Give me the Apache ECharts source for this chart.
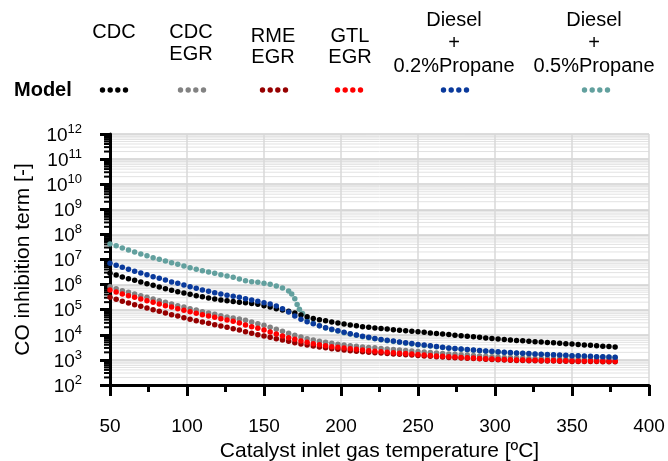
<!DOCTYPE html>
<html>
<head>
<meta charset="utf-8">
<script src="https://cdn.jsdelivr.net/npm/echarts@6/dist/echarts.min.js"></script>
<style>
  html, body { margin: 0; padding: 0; background: #fff; }
  #chart { width: 668px; height: 461px; }
</style>
</head>
<body>
<div id="chart"></div>
<script>
const FONT = '"Liberation Sans", Arial, sans-serif';

// catalyst inlet temperature [C], one dot every 4 degrees
const temps = [50,54,58,62,66,70,74,78,82,86,90,94,98,102,106,110,114,118,122,126,130,134,138,142,146,150,154,158,162,166,170,174,178,182,186,190,194,198,202,206,210,214,218,222,226,230,234,238,242,246,250,254,258,262,266,270,274,278,282,286,290,294,298,302,306,310,314,318,322,326,330,334,338,342,346,350,354,358,362,366,370,374,378];

// the 0.5% propane curve has a few extra dots where it drops
const tempsPropane05 = [50,54,58,62,66,70,74,78,82,86,90,94,98,102,106,110,114,118,122,126,130,134,138,142,146,150,154,158,162,166,168,170,171.5,173,175,178,182,186,190,194,198,202,206,210,214,218,222,226,230,234,238,242,246,250,254,258,262,266,270,274,278,282,286,290,294,298,302,306,310,314,318,322,326,330,334,338,342,346,350,354,358,362,366,370,374,378];

const cdc = [2.82e6,2.41e6,2.01e6,1.72e6,1.48e6,1.27e6,1.09e6,9.4e5,8.0e5,6.9e5,
  5.9e5,5.2e5,4.6e5,4.1e5,3.6e5,3.3e5,2.9e5,2.65e5,2.45e5,2.25e5,
  2.1e5,1.97e5,1.88e5,1.78e5,1.64e5,1.44e5,1.28e5,1.10e5,9.7e4,8.6e4,
  7.4e4,6.1e4,5.2e4,4.5e4,4.0e4,3.6e4,3.2e4,2.95e4,2.7e4,2.45e4,
  2.3e4,2.1e4,1.99e4,1.87e4,1.77e4,1.69e4,1.60e4,1.52e4,1.45e4,1.38e4,
  1.31e4,1.25e4,1.19e4,1.13e4,1.07e4,1.02e4,9.7e3,9.2e3,8.7e3,8.3e3,
  7.9e3,7.5e3,7.2e3,6.8e3,6.5e3,6.2e3,5.98e3,5.75e3,5.55e3,5.33e3,
  5.14e3,4.95e3,4.77e3,4.59e3,4.42e3,4.26e3,4.10e3,3.95e3,3.80e3,3.66e3,
  3.52e3,3.40e3,3.27e3];

const cdcEgr = [8.25e5,6.87e5,5.71e5,4.93e5,4.22e5,3.61e5,3.12e5,2.67e5,2.28e5,1.97e5,
  1.69e5,1.44e5,1.28e5,1.10e5,9.7e4,8.3e4,7.4e4,6.6e4,5.8e4,5.1e4,
  4.7e4,4.3e4,3.8e4,3.2e4,2.77e4,2.39e4,1.99e4,1.66e4,1.38e4,1.15e4,
  9.5e3,8.2e3,7.0e3,6.2e3,5.5e3,5.0e3,4.6e3,4.2e3,3.9e3,3.7e3,
  3.5e3,3.27e3,3.15e3,3.03e3,2.87e3,2.72e3,2.57e3,2.46e3,2.35e3,2.24e3,
  2.14e3,2.05e3,1.95e3,1.87e3,1.80e3,1.73e3,1.67e3,1.61e3,1.55e3,1.50e3,
  1.44e3,1.39e3,1.34e3,1.29e3,1.26e3,1.24e3,1.21e3,1.19e3,1.17e3,1.15e3,
  1.13e3,1.11e3,1.09e3,1.08e3,1.06e3,1.05e3,1.04e3,1.03e3,1.02e3,1.01e3,
  1.00e3,990,980];

const rmeEgr = [3.12e5,2.59e5,2.16e5,1.85e5,1.58e5,1.36e5,1.17e5,1.00e5,8.6e4,7.4e4,
  6.3e4,5.6e4,4.8e4,4.15e4,3.65e4,3.24e4,2.87e4,2.52e4,2.24e4,1.99e4,
  1.75e4,1.55e4,1.33e4,1.15e4,1.01e4,8.95e3,7.94e3,7.0e3,6.2e3,5.5e3,
  4.84e3,4.30e3,3.93e3,3.58e3,3.27e3,3.06e3,2.79e3,2.64e3,2.48e3,2.33e3,
  2.20e3,2.12e3,2.01e3,1.94e3,1.87e3,1.80e3,1.73e3,1.67e3,1.61e3,1.55e3,
  1.50e3,1.44e3,1.39e3,1.34e3,1.29e3,1.26e3,1.22e3,1.19e3,1.16e3,1.13e3,
  1.10e3,1.07e3,1.04e3,1.01e3,991,973,955,938,929,920,
  912,904,896,887,879,871,863,863,855,855,
  847,847,839];

const gtlEgr = [6.1e5,5.07e5,4.22e5,3.61e5,3.12e5,2.67e5,2.28e5,1.97e5,1.69e5,1.44e5,
  1.28e5,1.10e5,9.5e4,8.3e4,7.2e4,6.3e4,5.6e4,5.0e4,4.4e4,3.9e4,
  3.45e4,2.95e4,2.45e4,2.10e4,1.82e4,1.55e4,1.29e4,1.08e4,8.95e3,7.66e3,
  6.62e3,5.66e3,5.02e3,4.42e3,4.03e3,3.68e3,3.36e3,3.18e3,2.98e3,2.79e3,
  2.64e3,2.48e3,2.33e3,2.20e3,2.10e3,2.01e3,1.92e3,1.85e3,1.78e3,1.72e3,
  1.64e3,1.57e3,1.50e3,1.44e3,1.39e3,1.34e3,1.29e3,1.25e3,1.21e3,1.18e3,
  1.15e3,1.12e3,1.09e3,1.06e3,1.04e3,1.02e3,1.00e3,982,973,964,
  955,946,938,929,920,912,904,904,896,896,
  887,887,879];

const propane02 = [7.06e6,5.87e6,4.89e6,4.07e6,3.39e6,2.90e6,2.48e6,2.07e6,1.78e6,1.52e6,
  1.27e6,1.13e6,9.6e5,8.2e5,7.1e5,6.1e5,5.4e5,4.75e5,4.2e5,3.75e5,
  3.42e5,3.15e5,2.74e5,2.43e5,2.16e5,1.90e5,1.69e5,1.40e5,1.10e5,8.1e4,
  5.6e4,4.15e4,3.33e4,2.77e4,2.31e4,1.92e4,1.66e4,1.46e4,1.26e4,1.11e4,
  9.8e3,8.7e3,7.9e3,7.1e3,6.56e3,6.04e3,5.61e3,5.16e3,4.80e3,4.46e3,
  4.15e3,3.89e3,3.65e3,3.42e3,3.21e3,3.01e3,2.87e3,2.74e3,2.62e3,2.50e3,
  2.39e3,2.28e3,2.20e3,2.10e3,2.03e3,1.95e3,1.90e3,1.83e3,1.78e3,1.73e3,
  1.69e3,1.64e3,1.60e3,1.55e3,1.52e3,1.48e3,1.46e3,1.42e3,1.39e3,1.35e3,
  1.33e3,1.31e3,1.28e3];

const propane05 = [4.15e7,3.55e7,2.87e7,2.39e7,1.99e7,1.66e7,1.42e7,1.18e7,1.02e7,8.7e6,
  7.46e6,6.44e6,5.51e6,4.71e6,4.07e6,3.58e6,3.18e6,2.82e6,2.48e6,2.20e6,
  1.95e6,1.67e6,1.43e6,1.31e6,1.24e6,1.13e6,1.03e6,8.8e5,7.3e5,5.6e5,
  4.2e5,2.7e5,1.6e5,1.05e5,7.0e4,
  4.0e4,2.9e4,2.3e4,1.86e4,1.60e4,1.41e4,1.22e4,1.07e4,9.5e3,8.4e3,
  7.6e3,6.9e3,6.35e3,5.85e3,5.43e3,5.0e3,4.65e3,4.32e3,4.02e3,3.77e3,
  3.54e3,3.31e3,3.11e3,2.92e3,2.78e3,2.66e3,2.54e3,2.43e3,2.32e3,2.21e3,
  2.13e3,2.04e3,1.97e3,1.89e3,1.84e3,1.78e3,1.73e3,1.68e3,1.64e3,1.59e3,
  1.55e3,1.51e3,1.48e3,1.44e3,1.42e3,1.38e3,1.35e3,1.31e3,1.29e3,1.27e3,1.24e3];

// log minor gridlines / ticks: 2..9 times each decade
const minorSteps = [2,3,4,5,6,7,8,9];
const decades = [1e2,1e3,1e4,1e5,1e6,1e7,1e8,1e9,1e10,1e11];

const colors = {
  cdc: '#000000',
  cdcEgr: '#828282',
  rmeEgr: '#960000',
  gtlEgr: '#ff0000',
  p02: '#0a3a9c',
  p05: '#62a09e',
};

function pairs(xs, ys) {
  return ys.map((v, i) => [xs[i], v]);
}

function dotSeries(name, xs, ys, color) {
  return {
    name: name,
    type: 'scatter',
    data: pairs(xs, ys),
    symbol: 'circle',
    symbolSize: 5.5,
    itemStyle: { color: color, opacity: 1 },
    silent: true,
    z: 3,
  };
}

function legendText(text, x, y, lineHeight) {
  return {
    type: 'text',
    x: x,
    y: y,
    style: {
      text: text,
      align: 'center',
      verticalAlign: 'middle',
      font: '20px ' + FONT,
      lineHeight: lineHeight || 22,
      fill: '#000',
    },
  };
}

function legendDots(cx, cy, color) {
  return [-11.5, -3.8, 3.8, 11.5].map(dx => ({
    type: 'circle',
    shape: { cx: cx + dx, cy: cy, r: 2.7 },
    style: { fill: color },
  }));
}

const minorTickVals = [];
decades.forEach(d => minorSteps.forEach(m => minorTickVals.push([50, m * d])));

const option = {
  animation: false,
  grid: { left: 110, right: 19, top: 134, bottom: 76, outerBoundsMode: 'none' },
  xAxis: {
    type: 'value',
    min: 50,
    max: 400,
    interval: 50,
    name: 'Catalyst inlet gas temperature [ºC]',
    nameLocation: 'middle',
    nameGap: 55,
    nameTextStyle: { fontSize: 21, fontFamily: FONT, color: '#000' },
    axisLine: { lineStyle: { color: '#000', width: 3 } },
    axisTick: { length: 11, lineStyle: { color: '#000', width: 3 } },
    minorTick: { show: true, splitNumber: 2, length: 7, lineStyle: { color: '#000', width: 3 } },
    axisLabel: { margin: 32, fontSize: 19, fontFamily: FONT, color: '#000' },
    splitLine: { lineStyle: { color: '#d9d9d9', width: 1.5 } },
  },
  yAxis: {
    type: 'log',
    logBase: 10,
    min: 100,
    max: 1e12,
    interval: 1,
    name: 'CO inhibition term [-]',
    nameLocation: 'middle',
    nameGap: 76,
    nameTextStyle: { fontSize: 21, fontFamily: FONT, color: '#000' },
    axisLine: { lineStyle: { color: '#000', width: 3 } },
    axisTick: { length: 10, lineStyle: { color: '#000', width: 3 } },
    axisLabel: {
      margin: 28,
      showMinLabel: true,
      showMaxLabel: true,
      hideOverlap: false,
      formatter: v => '{b|10}{s|' + Math.round(Math.log10(v)) + '}',
      rich: {
        b: { fontSize: 19, fontFamily: FONT, color: '#000', verticalAlign: 'bottom', lineHeight: 22 },
        s: { fontSize: 13, fontFamily: FONT, color: '#000', verticalAlign: 'top', lineHeight: 22 },
      },
    },
    splitLine: { lineStyle: { color: '#d0d0d0', width: 1.5 } },
  },
  series: [
    {
      type: 'custom',
      silent: true,
      z: -1,
      data: minorTickVals,
      renderItem: (params, api) => {
        const v = api.value(1);
        const p0 = api.coord([50, v]);
        const p1 = api.coord([400, v]);
        return {
          type: 'group',
          children: [
            { type: 'line', shape: { x1: p0[0], y1: p0[1], x2: p1[0], y2: p1[1] }, style: { stroke: '#e2e2e2', lineWidth: 1 } },
            { type: 'line', shape: { x1: p0[0] - 6, y1: p0[1], x2: p0[0], y2: p0[1] }, style: { stroke: '#000', lineWidth: 2 } },
          ],
        };
      },
    },
    dotSeries('Diesel + 0.5%Propane', tempsPropane05, propane05, colors.p05),
    dotSeries('CDC', temps, cdc, colors.cdc),
    dotSeries('CDC EGR', temps, cdcEgr, colors.cdcEgr),
    dotSeries('RME EGR', temps, rmeEgr, colors.rmeEgr),
    dotSeries('GTL EGR', temps, gtlEgr, colors.gtlEgr),
    dotSeries('Diesel + 0.2%Propane', temps, propane02, colors.p02),
  ],
  graphic: [
    legendText('CDC', 114, 32),
    legendText('CDC\nEGR', 191, 43),
    legendText('RME\nEGR', 273, 47, 21),
    legendText('GTL\nEGR', 350, 47, 21),
    legendText('Diesel\n+\n0.2%Propane', 454, 43, 23),
    legendText('Diesel\n+\n0.5%Propane', 594, 43, 23),
    {
      type: 'text',
      x: 14,
      y: 90,
      style: { text: 'Model', verticalAlign: 'middle', font: 'bold 20px ' + FONT, fill: '#000' },
    },
    ...legendDots(114, 90, colors.cdc),
    ...legendDots(192, 90, colors.cdcEgr),
    ...legendDots(274, 90, colors.rmeEgr),
    ...legendDots(349, 90, colors.gtlEgr),
    ...legendDots(455, 90, colors.p02),
    ...legendDots(596, 90, colors.p05),
  ],
};

const chart = echarts.init(document.getElementById('chart'));
chart.setOption(option);
</script>
</body>
</html>
